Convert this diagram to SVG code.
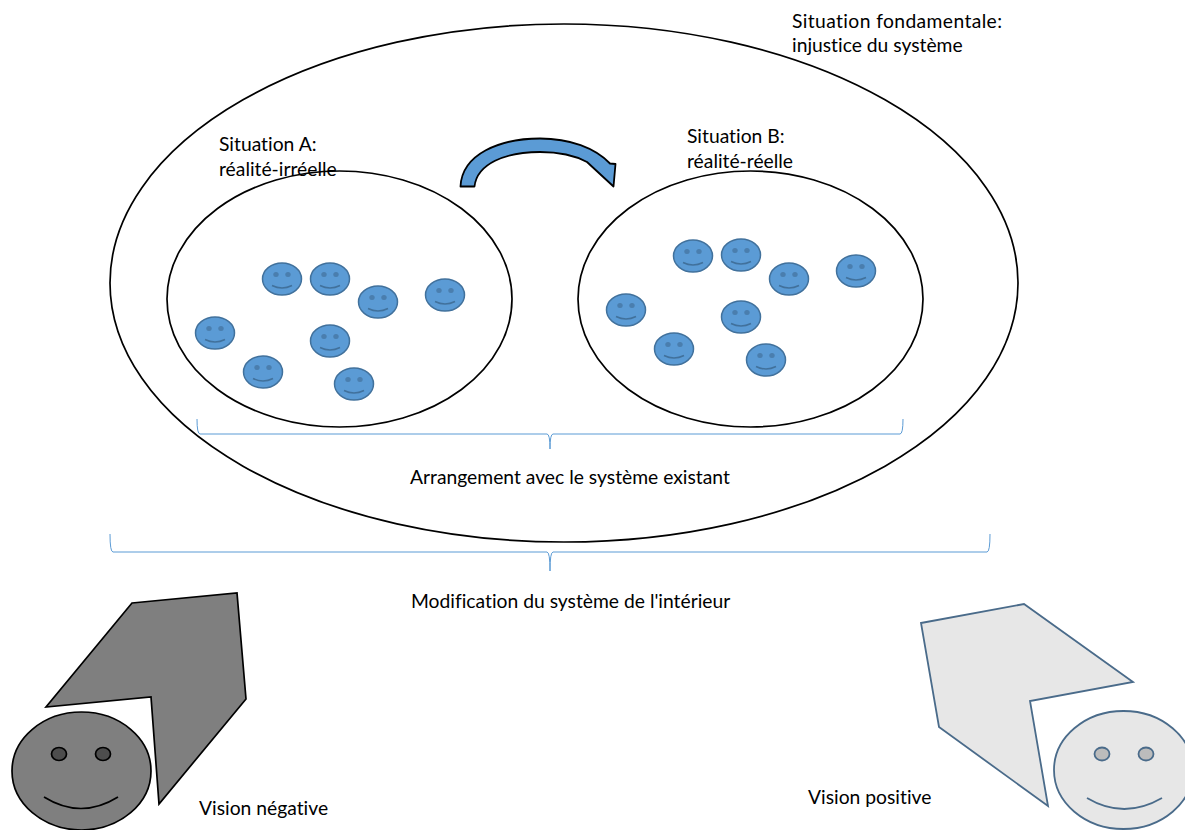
<svg xmlns="http://www.w3.org/2000/svg" width="1185" height="830" viewBox="0 0 1185 830">
<style>
text{font-family:"Lato","Open Sans",sans-serif;font-size:19.300px;fill:#000;font-variant-ligatures:none}
.ring{fill:#fff;stroke:#000;stroke-width:1.700}
.brace{fill:none;stroke:#5b9bd5;stroke-width:1}
.sm{fill:#5b9bd5;stroke:#41719c;stroke-width:1.500}
.smd{fill:#4a7eae;stroke:none}
.sml{fill:none;stroke:#41719c;stroke-width:1.500}
.dark{fill:#7f7f7f;stroke:#000;stroke-width:1.700}
.darke{fill:#4d4d4d;stroke:#000;stroke-width:1.700}
.light{fill:#e7e7e7;stroke:#4a6b8a;stroke-width:1.800}
.lighte{fill:#bcbcbc;stroke:#4a6b8a;stroke-width:1.800}
</style>
<defs>
<g id="smiley">
<ellipse class="sm" cx="0" cy="0" rx="19.500" ry="16"/>
<ellipse class="smd" cx="-6" cy="-4.500" rx="2.700" ry="2.500"/>
<ellipse class="smd" cx="6" cy="-4.500" rx="2.700" ry="2.500"/>
<path class="sml" d="M-10 6.500Q0 11.500 10 6.500"/>
</g>
</defs>
<g id="situation-fondamentale"><ellipse class="ring" cx="564" cy="283" rx="454" ry="259"/></g>
<g id="situation-a">
<ellipse class="ring" cx="339.500" cy="299" rx="172.500" ry="128"/>
<use href="#smiley" x="282" y="279"/><use href="#smiley" x="330" y="279"/><use href="#smiley" x="378" y="302"/><use href="#smiley" x="445" y="295"/>
<use href="#smiley" x="215" y="333"/><use href="#smiley" x="330" y="341"/><use href="#smiley" x="263" y="372"/><use href="#smiley" x="354" y="384"/>
</g>
<g id="situation-b">
<ellipse class="ring" cx="750.500" cy="299" rx="172.500" ry="128"/>
<use href="#smiley" x="693" y="256"/><use href="#smiley" x="741" y="255"/><use href="#smiley" x="789" y="279"/><use href="#smiley" x="856" y="271"/>
<use href="#smiley" x="626" y="310"/><use href="#smiley" x="741" y="317"/><use href="#smiley" x="674" y="349"/><use href="#smiley" x="766" y="360"/>
</g>
<g id="connectors">
<path d="M460.500 186.500C462 154 500 138.500 540 138.500C570 138.500 595 148 610 163.500L615.500 164L613.500 186.500L587 162C574 155 558 152 540 152C505 152 477 164 474.500 186.500Z" fill="#5b9bd5" stroke="#000" stroke-width="1.800" stroke-linejoin="round"/>
<path class="brace" d="M197 419Q197 434 200 434H547Q550 434 550 449Q550 434 553 434H900Q903 434 903 419"/>
<path class="brace" d="M110 534Q110 552 113 552H547Q550 552 550 571Q550 552 553 552H987Q990 552 990 534"/>
</g>
<g id="vision-negative">
<path class="dark" d="M132 603L237 593L246 699L159 804L151 697L46 707Z"/>
<ellipse class="dark" cx="81.500" cy="771" rx="69.500" ry="59"/>
<ellipse class="darke" cx="59" cy="754" rx="7.500" ry="6.500"/>
<ellipse class="darke" cx="103" cy="754" rx="7.500" ry="6.500"/>
<path d="M44 797Q81 820 118 797" fill="none" stroke="#000" stroke-width="1.700"/>
</g>
<g id="vision-positive">
<path class="light" d="M921 623L1024 604L1133 682L1030 701L1048 806L939 727Z"/>
<ellipse class="light" cx="1123.500" cy="770" rx="69.500" ry="59"/>
<ellipse class="lighte" cx="1102" cy="754" rx="7.500" ry="6.500"/>
<ellipse class="lighte" cx="1146" cy="754" rx="7.500" ry="6.500"/>
<path d="M1087 798Q1124 820 1162 798" fill="none" stroke="#4a6b8a" stroke-width="1.800"/>
</g>
<g id="labels">
<text x="792" y="28" textLength="210">Situation fondamentale:</text>
<text x="792" y="52">injustice du système</text>
<text x="219" y="151">Situation A:</text>
<text x="219" y="176">réalité-irréelle</text>
<text x="687" y="143">Situation B:</text>
<text x="687" y="168">réalité-réelle</text>
<text x="410" y="484">Arrangement avec le système existant</text>
<text x="411" y="608">Modification du système de l'intérieur</text>
<text x="199" y="815">Vision négative</text>
<text x="808" y="804">Vision positive</text>
</g>
</svg>
